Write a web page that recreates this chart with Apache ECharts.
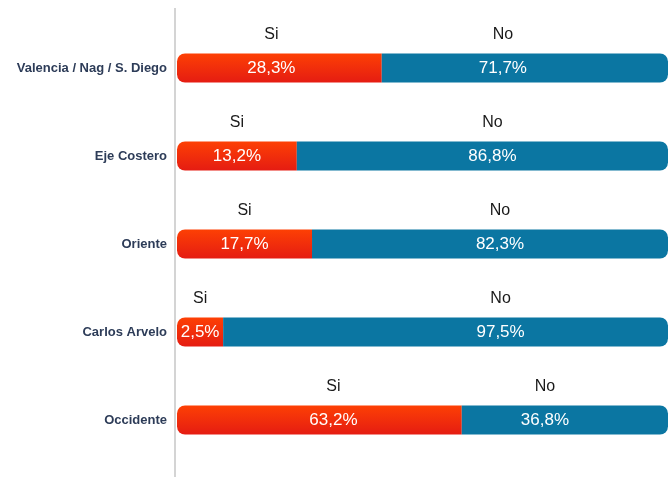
<!DOCTYPE html>
<html>
<head>
<meta charset="utf-8">
<style>
  html, body { margin: 0; padding: 0; background: #fff; }
  #chart { width: 671px; height: 477px; }
</style>
<script src="https://cdn.jsdelivr.net/npm/echarts@6/dist/echarts.min.js"></script>
</head>
<body>
<div id="chart"></div>
<script>
// zonas, de arriba hacia abajo
const categories = ['Valencia / Nag / S. Diego', 'Eje Costero', 'Oriente', 'Carlos Arvelo', 'Occidente'];
// porcentajes impresos en las barras
const siPct = [28.3, 13.2, 17.7, 2.5, 63.2];
const noPct = [71.7, 86.8, 82.3, 97.5, 36.8];
// largo de cada tramo tal como esta dibujado en la figura original (no va a escala)
const siDrawn = [41.7, 24.4, 27.5, 9.4, 58.0];
const noDrawn = [58.3, 75.6, 72.5, 90.6, 42.0];
const seriesNames = ['Si', 'No'];

const fmt = v => v.toFixed(1).replace('.', ',') + '%';

const chart = echarts.init(document.getElementById('chart'));

// corrimiento horizontal de las etiquetas, como en el original
const siShift = [-8, 0, 0, 0, 14];
const noShift = [-22, 10, 10, 55, -20];

function makeLabel(name, pcts) {
  return {
    show: true,
    position: 'inside',
    formatter: p => '{h|' + name + '}\n{v|' + fmt(pcts[p.dataIndex]) + '}\n{e| }',
    rich: {
      h: { color: '#1a1a1a', fontSize: 16, lineHeight: 46, fontFamily: 'Liberation Sans, Arial, sans-serif' },
      v: { color: '#ffffff', fontSize: 17, lineHeight: 20, fontFamily: 'Liberation Sans, Arial, sans-serif' },
      e: { fontSize: 1, lineHeight: 46 }
    }
  };
}

function items(vals, shift) {
  return vals.map((v, i) => ({ value: v, label: { offset: [shift[i], 0] } }));
}

const option = {
  animation: false,
  grid: { left: 177, right: 3, top: 24, bottom: 13 },
  xAxis: { type: 'value', min: 0, max: 100, show: false },
  yAxis: {
    type: 'category',
    inverse: true,
    data: categories,
    axisLine: { show: false },
    axisTick: { show: false },
    splitLine: { show: false },
    axisLabel: {
      margin: 10,
      color: '#2d3c58',
      fontWeight: 'bold',
      fontSize: 13,
      fontFamily: 'Liberation Sans, Arial, sans-serif'
    }
  },
  graphic: [{
    type: 'line',
    shape: { x1: 175, y1: 8, x2: 175, y2: 477 },
    style: { stroke: '#d4d4d4', lineWidth: 2 }
  }],
  series: [
    {
      name: seriesNames[0],
      type: 'bar',
      stack: 'total',
      barWidth: 29,
      data: items(siDrawn, siShift),
      itemStyle: {
        borderRadius: [8, 0, 0, 8],
        color: new echarts.graphic.LinearGradient(0, 0, 0, 1, [
          { offset: 0, color: '#fd4004' },
          { offset: 1, color: '#e51c12' }
        ])
      },
      label: makeLabel(seriesNames[0], siPct)
    },
    {
      name: seriesNames[1],
      type: 'bar',
      stack: 'total',
      barWidth: 29,
      data: items(noDrawn, noShift),
      itemStyle: { borderRadius: [0, 8, 8, 0], color: '#0b76a2' },
      label: makeLabel(seriesNames[1], noPct)
    }
  ]
};

chart.setOption(option);
</script>
</body>
</html>
